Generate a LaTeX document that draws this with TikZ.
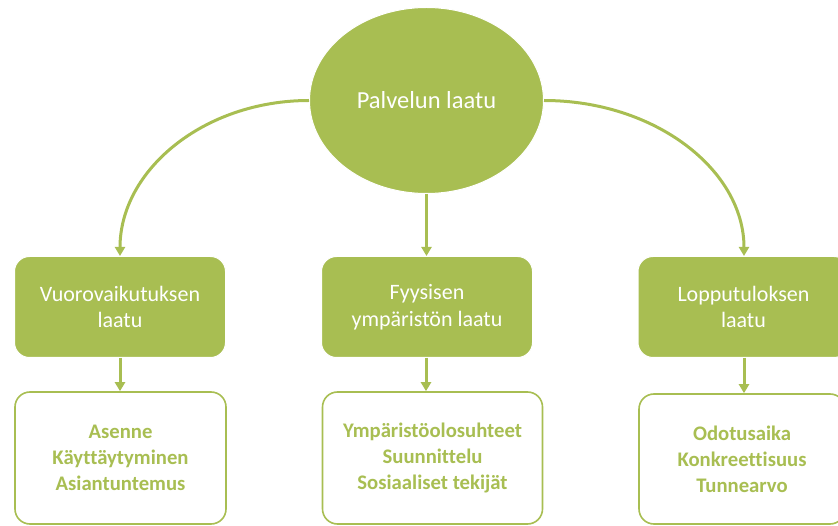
\documentclass[tikz,border=0pt]{standalone}
\usepackage{fontspec}
\setmainfont[Ligatures=CommonOff]{Carlito}
\usetikzlibrary{arrows.meta,shapes.geometric}
\definecolor{olive}{RGB}{168,190,82}
\tikzset{
  hub/.style={ellipse, fill=olive, draw=white, line width=1pt, inner sep=0pt,
    minimum width=234pt, minimum height=186pt, text=white,
    font=\fontsize{24.5}{30}\selectfont},
  headbox/.style={rectangle, rounded corners=15pt, fill=olive, draw=white, line width=1pt,
    inner sep=0pt, minimum width=211pt, minimum height=101pt, text=white, align=center,
    font=\fontsize{22}{26.7}\selectfont},
  itembox/.style={rectangle, rounded corners=15pt, fill=white, draw=olive, line width=1.6pt,
    inner sep=0pt, minimum height=132pt, text=olive, align=center,
    font=\bfseries\fontsize{20.7}{26}\selectfont},
  conn/.style={draw=olive, line width=3pt,
    -{Triangle[width=10pt,length=9pt]}}
}
\begin{document}
\begin{tikzpicture}[x=1pt,y=-1pt]
  \useasboundingbox (0,0) rectangle (838,526);
  \clip (0,0) rectangle (838,526);

  % category boxes
  \node[headbox] (h1) at (120,307) {Vuorovaikutuksen\\laatu};
  \node[headbox] (h2) at (427,307) {Fyysisen\\ympäristön laatu};
  \node[headbox] (h3) at (743.5,307) {Lopputuloksen\\laatu};

  % detail boxes
  \node[itembox, minimum width=211pt] (d1) at (120.5,458) {Asenne\\Käyttäytyminen\\Asiantuntemus};
  \node[itembox, minimum width=220pt] (d2) at (432.5,458) {Ympäristöolosuhteet\\Suunnittelu\\Sosiaaliset tekijät};
  \node[itembox, minimum width=206pt, minimum height=130pt] (d3) at (742,459) {Odotusaika\\Konkreettisuus\\Tunnearvo};

  % central concept
  \node[hub] (top) at (426.5,100.5) {Palvelun laatu};

  % connectors from the centre
  \draw[conn] (top.west) .. controls +(-105,0) and +(0,-86) .. (h1.north west -| 120,0);
  \draw[conn] (top.east) .. controls +(111,0) and +(0,-86) .. (h3.north west -| 744,0);
  \draw[conn] (top.south) -- (top.south |- h2.north);

  % connectors to the detail boxes
  \draw[conn] (h1.south) -- (h1.south |- d1.north);
  \draw[conn] (h2.south -| 426,0) -- (d2.north -| 426,0);
  \draw[conn] (h3.south -| 744,0) -- (d3.north -| 744,0);
\end{tikzpicture}
\end{document}
